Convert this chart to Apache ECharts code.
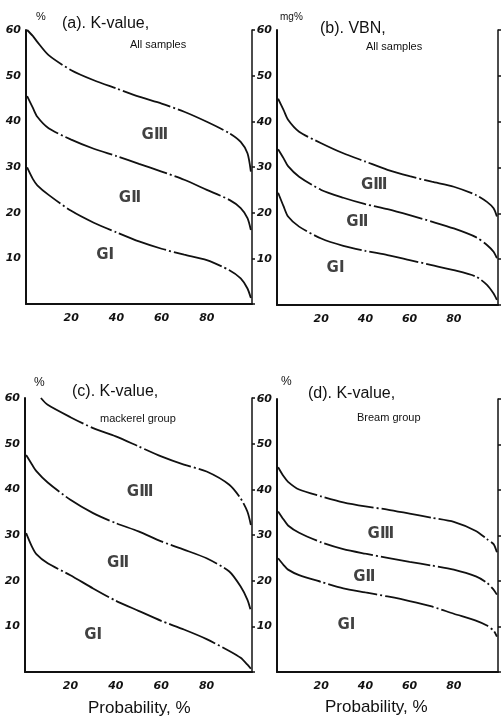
<!DOCTYPE html>
<html><head><meta charset="utf-8">
<script src="https://cdn.jsdelivr.net/npm/echarts@6/dist/echarts.min.js"></script>
<style>html,body{margin:0;padding:0;background:#fff}#c{width:501px;height:725px}</style>
</head><body><div id="c"></div>
<script>
// Probability (%) sample points
const xs = [0.5, 3, 5, 10, 20, 30, 40, 50, 60, 70, 80, 90, 95, 98, 99.5];
const xsC3 = [7, 10, 20, 30, 40, 50, 60, 70, 80, 90, 95, 98, 99.5];
const xTicks = [20, 40, 60, 80];
const yTicks = [10, 20, 30, 40, 50, 60];

// (a) K-value, all samples
const aG3 = [60, 58.7, 57.4, 54.5, 51.2, 49, 47.2, 45.4, 43.9, 42.1, 39.9, 37.4, 35.5, 33, 29];
const aG2 = [45.5, 43, 41, 38.5, 36, 34, 32.4, 30.7, 29, 27.2, 25, 22.8, 21, 18.8, 16.2];
const aG1 = [29.9, 27.4, 26, 23.9, 20.4, 17.8, 15.7, 13.7, 12.1, 10.8, 9.6, 7.4, 5.6, 3.4, 1.3];
// (b) VBN, all samples (mg%)
const bG3 = [45, 42.5, 40.4, 37.8, 35.3, 33.1, 31.3, 29.5, 28.1, 26.9, 25.8, 24, 22.5, 21.1, 19.3];
const bG2 = [34, 32, 30.3, 28, 25.1, 23.4, 22, 20.9, 19.6, 18.2, 16.7, 14.8, 13.1, 11.6, 10.2];
const bG1 = [24.5, 21.5, 19.3, 17.1, 14.5, 12.9, 11.8, 10.9, 9.8, 8.7, 7.6, 6.2, 4.4, 2.5, 1.1];
// (c) K-value, mackerel group
const cG3 = [60, 58.5, 55.8, 53.4, 51.6, 49.4, 47.2, 45.4, 43.9, 41, 38, 35.1, 32.2];
const cG2 = [47.5, 45.5, 44, 41.5, 37.7, 34.8, 32.6, 30.8, 28.6, 26.8, 24.9, 22, 18.7, 15.8, 13.4];
const cG1 = [30.4, 27.5, 25.8, 23.8, 21.2, 18.3, 15.6, 13.4, 11.2, 9.3, 7.2, 4.6, 3.1, 1.6, 0.7];
// (d) K-value, bream group
const dG3 = [45, 43, 41.8, 40.1, 38.6, 37.3, 36.4, 35.7, 34.8, 33.9, 33, 31, 29.2, 28.1, 26.3];
const dG2 = [35.3, 33.5, 32.2, 30.6, 28.5, 27, 26, 25.1, 24.2, 23.4, 22.5, 21, 19.6, 18.1, 17];
const dG1 = [25, 23.5, 22.5, 21.3, 19.8, 18.4, 17.5, 16.6, 15.6, 14.4, 12.8, 11.3, 10.2, 9.1, 7.8];

// Group label anchor positions (data coordinates) per panel
const groupNames = ['GⅢ', 'GⅡ', 'GⅠ'];
const labA = [[57, 37], [46, 23.2], [35, 10.7]];
const labB = [[44, 26.2], [36.3, 18.1], [26.5, 8]];
const labC = [[50.7, 39.4], [41, 23.9], [30, 8.1]];
const labD = [[47, 30.4], [39.5, 20.8], [31.4, 10.3]];

const grids = [
  {left: 26, top: 30, width: 226, height: 274},
  {left: 277, top: 30, width: 223, height: 275},
  {left: 25, top: 398, width: 227, height: 274},
  {left: 277, top: 399, width: 223, height: 273}
];
const panels = [
  {curves: [[xs, aG3], [xs, aG2], [xs, aG1]], labs: labA},
  {curves: [[xs, bG3], [xs, bG2], [xs, bG1]], labs: labB},
  {curves: [[xsC3, cG3], [xs, cG2], [xs, cG1]], labs: labC},
  {curves: [[xs, dG3], [xs, dG2], [xs, dG1]], labs: labD}
];

const font = 'Liberation Sans';
const labelStyle = {color: '#111', fontStyle: 'italic', fontWeight: 'bold', fontSize: 11, fontFamily: 'DejaVu Sans'};
const xAxes = [], yAxes = [], series = [];
grids.forEach((g, i) => {
  xAxes.push({
    gridIndex: i, type: 'value', min: 0, max: 100, interval: 20,
    axisLine: {lineStyle: {color: '#111', width: 2}},
    axisTick: {show: false}, splitLine: {show: false},
    axisLabel: Object.assign({margin: 9, formatter: v => xTicks.includes(v) ? String(v) : ''}, labelStyle)
  });
  yAxes.push({
    gridIndex: i, type: 'value', min: 0, max: 60, interval: 10, position: 'left',
    axisLine: {show: true, lineStyle: {color: '#111', width: 2}},
    axisTick: {show: false}, splitLine: {show: false},
    axisLabel: Object.assign({margin: 5, formatter: v => yTicks.includes(v) ? String(v) : ''}, labelStyle)
  });
  yAxes.push({
    gridIndex: i, type: 'value', min: 0, max: 60, interval: 10, position: 'right',
    axisLine: {show: true, lineStyle: {color: '#111', width: 1.5}},
    axisTick: {show: true, inside: false, length: 3, lineStyle: {color: '#111', width: 1.5}},
    axisLabel: {show: false}, splitLine: {show: false}
  });
  panels[i].curves.forEach(([px, py]) => {
    series.push({
      type: 'line', xAxisIndex: i, yAxisIndex: i * 2, smooth: 0.25, symbol: 'none',
      lineStyle: {color: '#111', width: 1.8, type: [50, 3, 2, 3]},
      data: px.map((x, k) => [x, py[k]]), silent: true
    });
  });
  series.push({
    type: 'scatter', xAxisIndex: i, yAxisIndex: i * 2, symbolSize: 0, silent: true,
    data: panels[i].labs.map((p, k) => ({value: p, name: groupNames[k]})),
    label: {show: true, position: 'inside', formatter: p => p.name, color: '#111',
      fontSize: 15, fontWeight: 'bold', fontFamily: 'DejaVu Sans'}
  });
});

const T = (text, x, y, size, extra) => Object.assign({type: 'text', left: x, top: y,
  style: {text, fontSize: size, fontFamily: font, fill: '#111'}}, extra || {});
const graphic = [
  T('%', 36, 11, 11), T('(a). K-value,', 62, 16, 16), T('All samples', 130, 39, 11),
  T('mg%', 280, 12, 10), T('(b). VBN,', 320, 21, 16), T('All samples', 366, 41, 11),
  T('%', 34, 377, 12), T('(c). K-value,', 72, 384, 16), T('mackerel group', 100, 413, 11),
  T('%', 281, 376, 12), T('(d). K-value,', 308, 386, 16), T('Bream group', 357, 412, 11),
  T('Probability, %', 88, 700, 17), T('Probability, %', 325, 699, 17)
];

const chart = echarts.init(document.getElementById('c'), null, {renderer: 'canvas'});
chart.setOption({
  animation: false, backgroundColor: '#fff',
  grid: grids, xAxis: xAxes, yAxis: yAxes, series, graphic
});
</script></body></html>
